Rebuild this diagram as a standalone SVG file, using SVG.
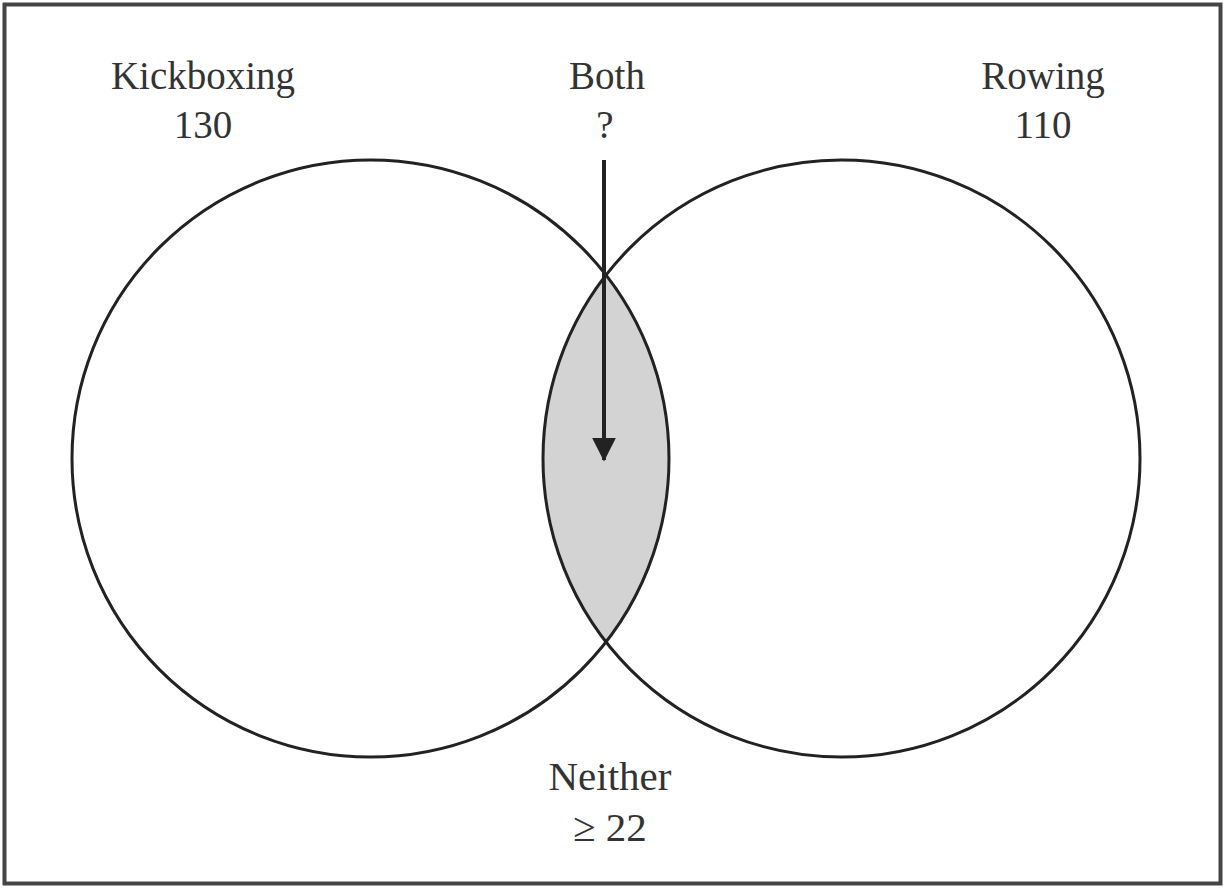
<svg xmlns="http://www.w3.org/2000/svg" width="1225" height="888" viewBox="0 0 1225 888">
<style>
.t{font-family:"Liberation Serif","Times New Roman",serif;font-size:39px;fill:#333;text-anchor:middle}
.c{fill:none;stroke:#222;stroke-width:3}
</style>
<defs>
<marker id="ah" markerWidth="6" markerHeight="6" refX="5.6" refY="3" orient="auto" markerUnits="strokeWidth">
<path d="M0,0 L6,3 L0,6 Z" fill="#222"/>
</marker>
</defs>
<rect x="0" y="0" width="1225" height="888" fill="#fff"/>
<rect x="4.5" y="4.5" width="1216" height="879" fill="none" stroke="#444" stroke-width="4"/>
<g id="lens">
<path d="M606,275.1 A298.5,298.5 0 0 1 606,641.9 A298.5,298.5 0 0 1 606,275.1 Z" fill="#d3d3d3"/>
</g>
<g id="kickboxing">
<circle class="c" cx="370.5" cy="458.5" r="298.5"/>
<text class="t" x="203" y="89">Kickboxing</text>
<text class="t" x="203" y="138">130</text>
</g>
<g id="rowing">
<circle class="c" cx="841.5" cy="458.5" r="298.5"/>
<text class="t" x="1043" y="89">Rowing</text>
<text class="t" x="1043" y="138">110</text>
</g>
<g id="both">
<text class="t" x="607" y="89">Both</text>
<text class="t" x="605" y="138">?</text>
</g>
<g id="neither">
<text class="t" x="610" y="790" style="font-size:41px">Neither</text>
<text class="t" x="610" y="841" style="font-size:41px">≥ 22</text>
</g>
<g id="connectors">
<line x1="604" y1="160" x2="604" y2="460" stroke="#222" stroke-width="4" marker-end="url(#ah)"/>
</g>
</svg>
